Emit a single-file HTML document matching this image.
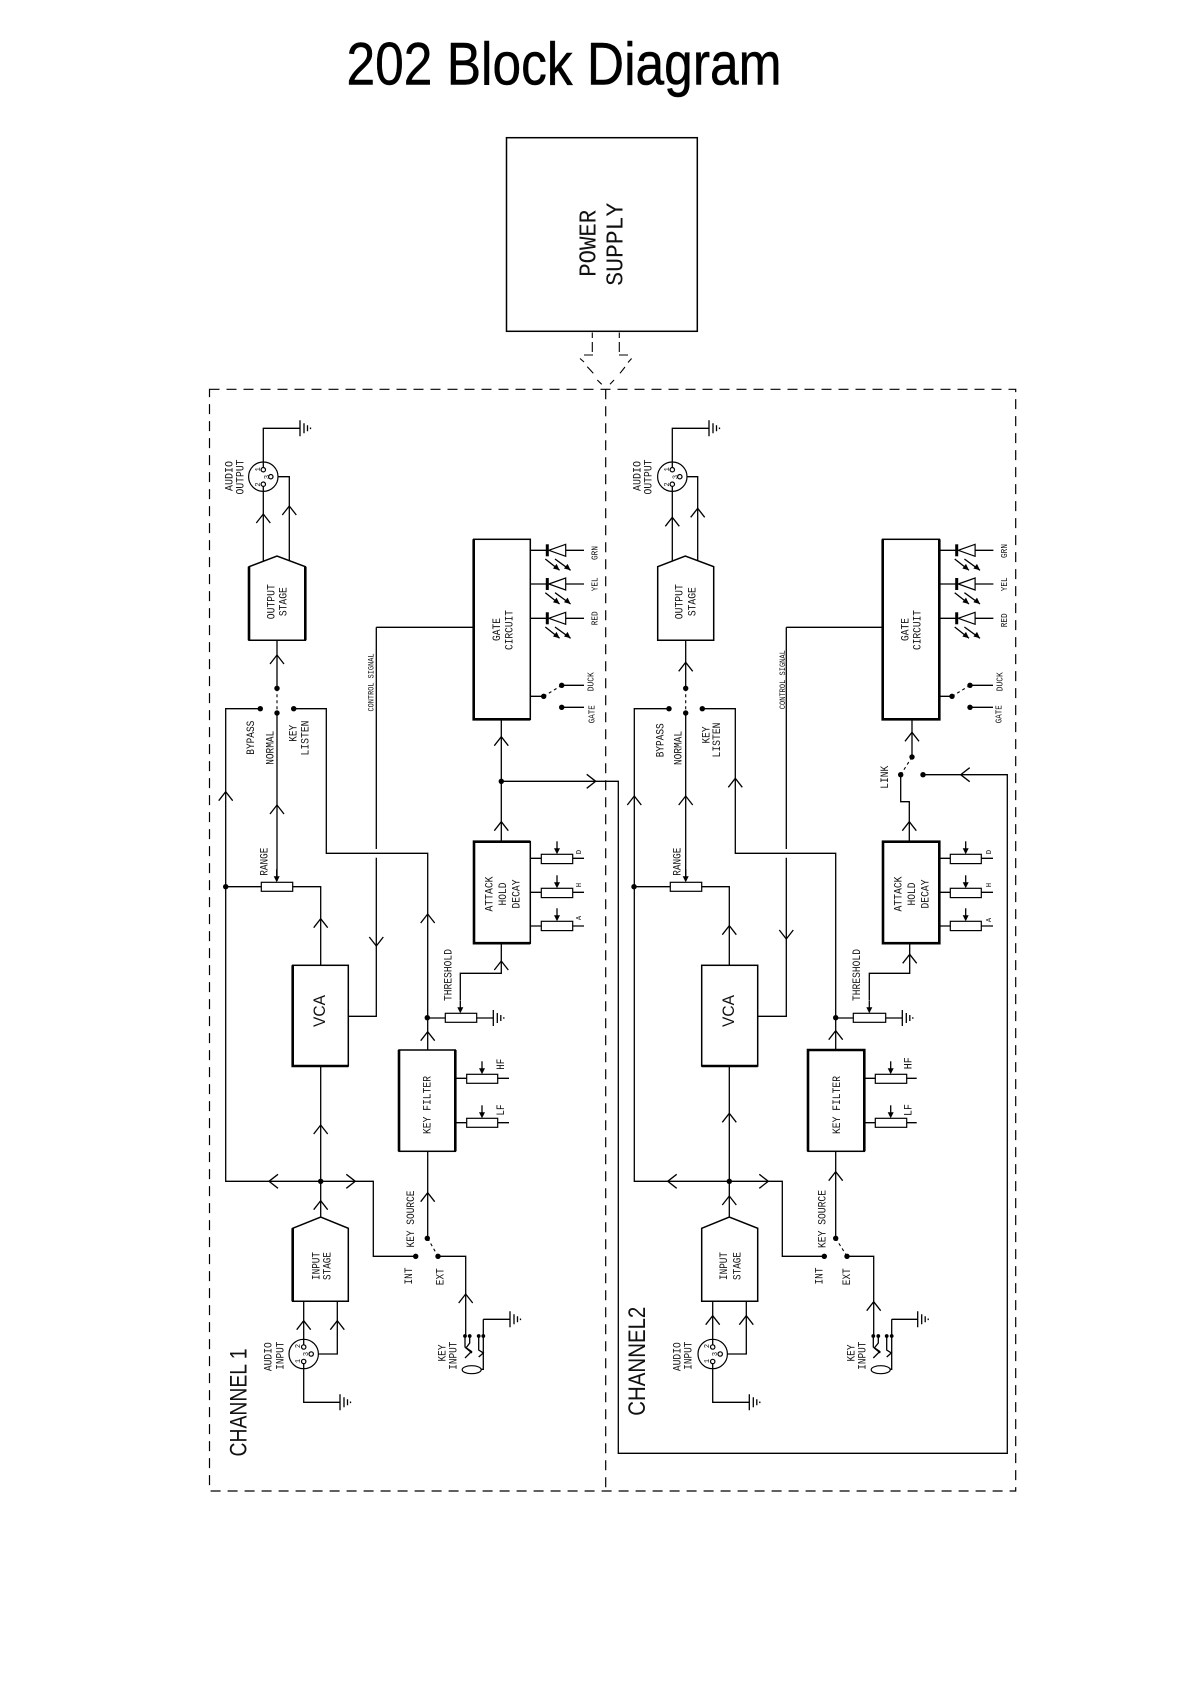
<!DOCTYPE html>
<html><head><meta charset="utf-8"><title>202 Block Diagram</title>
<style>
html,body{margin:0;padding:0;background:#fff}
svg{display:block}
text{font-family:"Liberation Mono",monospace;text-anchor:middle;fill:#111}
.a{font-size:11px}.b{font-size:9px}.c{font-size:7px}.d{font-size:12px}
.v{font-family:"Liberation Sans",sans-serif}
.w{fill:none;stroke:#000;stroke-width:1.3}
.h{fill:none;stroke:#000;stroke-width:2.6}
.m{fill:#fff;stroke:#000;stroke-width:1.5}
.r{fill:#fff;stroke:#000;stroke-width:1.2}
.f{fill:none;stroke:#000;stroke-width:1.2;stroke-dasharray:10 7}
.s{fill:none;stroke:#000;stroke-width:1.1;stroke-dasharray:3 3}
.k{fill:#000}
</style></head><body>
<svg xmlns="http://www.w3.org/2000/svg" width="1191" height="1684" viewBox="0 0 1191 1684">
<defs>
<path id="cu" class="w" d="M-7 9L0 0L7 9"/>
<path id="cd" class="w" d="M-7 -9L0 0L7 -9"/>
<path id="cl" class="w" d="M9 -7L0 0L9 7"/>
<path id="cr" class="w" d="M-9 -7L0 0L-9 7"/>
<path id="g" class="w" d="M0 -8V8M4 -5V5M7.5 -3V3M10.5 -.8V.8"/>
<g id="wp"><path class="w" d="M0 -13V-4"/><path class="k" d="M0 0L-3 -6H3Z"/></g>
<g id="led"><path class="w" d="M0 0H-17M18.4 0H36.7"/><path d="M0 -6V6" stroke="#000" stroke-width="3" fill="none"/><path class="r" d="M1.500 0L18.400 -6V6Z"/>
<path class="w" d="M-2 8.700L12.300 20M7.700 8.700L23.300 20"/><path class="k" d="M12.300 20L5.700 18.200L9.300 13.600ZM23.300 20L16.700 18.200L20.300 13.600Z"/></g>
<g id="xlr"><circle class="r" r="14.7"/><circle class="r" cy="-7" r="2.2"/><circle class="r" cy="7.500" r="2.2"/><circle class="r" cx="7.500" r="2.200"/></g>
</defs>

<text x="346.500" y="84.300" font-size="60" textLength="435" lengthAdjust="spacingAndGlyphs" style="font-family:'Liberation Sans',sans-serif;text-anchor:start;fill:#000;stroke:#000;stroke-width:.5">202 Block Diagram</text>

<rect x="506.500" y="137.700" width="190.800" height="193.600" class="m"/>
<text style="font-size:24px" transform="translate(595.7 243.300) rotate(-90)" textLength="67" lengthAdjust="spacingAndGlyphs">POWER</text>
<text style="font-size:24px" transform="translate(622.7 244.200) rotate(-90)" textLength="83" lengthAdjust="spacingAndGlyphs">SUPPLY</text>
<path class="w" style="stroke-width:1.1" d="M592.300 332.500V338M592.300 342V352M619.300 332.500V338M619.300 342V352M593 355H584M619 355H628M580 358.500L584 362M587.300 366.700L593.300 373.300M597.300 380L601.700 384.300M610 384.300L614 380M620 373.300L625 367M628 362.500L631.600 358.500"/>
<path class="f" d="M209.500 389.300H1015.700V1491H209.500ZM605.700 389.300V1491"/>

<!-- CHANNEL 1 -->
<path class="w" d="M263.300 470V428.300H300M263.300 484V561.700M271 476.700H289.300V561M277 640.300V688.300M277 713V881M260.300 708.700H225.700V1181.300H373.300V1256.300H415.700M293.700 708.700H326.300V853.300H427.700V1238.300M225.700 886.700H261.300M292.700 886.700H320.700V965.300M320.700 1066V1217M376.300 627.300H473.700M376.300 627.300V849M376.300 857.700V1016.300H348.300M427.700 1018H445.300M476.700 1018H493.300M460.300 1000V973.300H501.300V943M501.300 841.700V719M501.300 781.300H618.300V1453.300H1007.300V774.700H923M530.300 696.300H543.700M561.700 685.300H584M561.700 707.300H584M530.300 858.300H541.300M572.700 858.300H584M530.300 892.300H541.300M572.700 892.300H584M530.300 926H541.300M572.700 926H584M455.300 1078.300H466.700M497.700 1078.300H509M455.300 1122.700H466.700M497.700 1122.700H509M438 1256.300H465.700V1336M483.300 1319.300V1369.300H481M483.300 1319.300H510M303.700 1301V1344M337.300 1301V1354H311M303.700 1360V1402.300H340"/>
<path class="s" d="M277 688.300V713M427.700 1238.300L438 1256.300M543.700 696.300L561.700 685.300"/>
<path class="w" d="M465 1336V1347L471.500 1351.500L465 1358M469.700 1336V1343L466 1348L472 1353M478.700 1336V1350L483.300 1353L478.700 1357"/>
<ellipse class="r" cx="471.700" cy="1369.700" rx="9.500" ry="4"/>
<path class="m" d="M249 566.700L277 556L305.300 566.700V640.300H249Z"/><path class="h" d="M249 566.700V640.300M305.300 566.700V640.300"/>
<path class="m" d="M292.700 1228.300L320.700 1217L348.300 1228.300V1301.300H292.700Z"/><path class="h" d="M292.700 1228.300V1301.300"/>
<rect class="m" x="473.700" y="539.300" width="56.600" height="180"/><path class="h" d="M473.700 539.300V719.300H530.300"/>
<rect class="m" x="474" y="841.700" width="56.300" height="101.500"/><path class="h" d="M530.300 841.700H474V943.200H530.300"/>
<rect class="m" x="292.700" y="965.300" width="55.600" height="100.700"/><path class="h" d="M292.700 965.300V1066H348.300"/>
<rect class="m" x="399" y="1050" width="56.300" height="101.300"/><path class="h" d="M399 1050V1151.300M455.300 1050V1151.300"/>
<use href="#xlr" x="263.300" y="476.700"/><use href="#xlr" x="303.700" y="1354"/>
<path class="w" d="M263.300 462V468M263.300 486.500V492M303.700 1339.300V1344.500M303.700 1363V1369"/>
<rect class="r" x="261.300" y="882.300" width="31.400" height="9"/><rect class="r" x="445.300" y="1013.300" width="31.400" height="9"/>
<rect class="r" x="541.300" y="854.300" width="31.400" height="9.300"/><rect class="r" x="541.300" y="888.300" width="31.400" height="9.300"/><rect class="r" x="541.300" y="921.300" width="31.400" height="9.300"/>
<rect class="r" x="466.700" y="1074.300" width="31" height="9"/><rect class="r" x="466.700" y="1118.300" width="31" height="9"/>
<use href="#g" x="300" y="428.300"/><use href="#g" x="493.300" y="1018"/><use href="#g" x="340" y="1402.300"/><use href="#g" x="510" y="1319.300"/>
<use href="#wp" x="276.700" y="882.300"/><use href="#wp" x="460.300" y="1013.300"/><use href="#wp" x="557" y="854.300"/><use href="#wp" x="557" y="888.300"/><use href="#wp" x="557" y="921.300"/><use href="#wp" x="482" y="1074.300"/><use href="#wp" x="482" y="1118.300"/>
<use href="#led" x="547.300" y="550.300"/><use href="#led" x="547.300" y="584"/><use href="#led" x="547.300" y="618.300"/>
<use href="#cu" x="263.300" y="514"/><use href="#cu" x="289.300" y="506"/><use href="#cu" x="277" y="655"/><use href="#cu" x="277" y="805"/><use href="#cu" x="225.700" y="791.700"/><use href="#cu" x="501.300" y="736.700"/><use href="#cu" x="501.300" y="821.700"/><use href="#cu" x="501.300" y="961"/><use href="#cu" x="427.700" y="914"/><use href="#cu" x="427.700" y="1031.700"/><use href="#cu" x="320.700" y="918.700"/><use href="#cu" x="320.700" y="1125"/><use href="#cu" x="320.700" y="1200.700"/><use href="#cu" x="427.700" y="1192.700"/><use href="#cu" x="465.700" y="1294"/><use href="#cu" x="303.700" y="1320.700"/><use href="#cu" x="337.300" y="1320.700"/>
<use href="#cd" x="376.300" y="946"/><use href="#cl" x="269" y="1181.300"/><use href="#cr" x="355.300" y="1181.300"/><use href="#cr" x="595.700" y="781.300"/>
<g class="k">
<circle cx="277" cy="688.300" r="2.700"/><circle cx="277" cy="713" r="2.700"/><circle cx="260.300" cy="708.700" r="2.700"/><circle cx="293.700" cy="708.700" r="2.700"/><circle cx="543.700" cy="696.300" r="2.700"/><circle cx="561.700" cy="685.300" r="2.700"/><circle cx="561.700" cy="707.300" r="2.700"/><circle cx="501.300" cy="781.300" r="2.700"/><circle cx="225.700" cy="886.700" r="2.700"/><circle cx="427.300" cy="1017.700" r="2.700"/><circle cx="320.700" cy="1181.300" r="2.700"/><circle cx="427.300" cy="1238.300" r="2.700"/><circle cx="415.700" cy="1256.300" r="2.700"/><circle cx="438" cy="1256.300" r="2.700"/><circle cx="465" cy="1336" r="1.900"/><circle cx="469.700" cy="1336" r="1.900"/><circle cx="478.700" cy="1336" r="1.900"/><circle cx="483.300" cy="1336" r="1.900"/>
</g>
<g>
<text class="a" transform="translate(232.300 476) rotate(-90)" textLength="30" lengthAdjust="spacingAndGlyphs">AUDIO</text>
<text class="a" transform="translate(243.300 477) rotate(-90)" textLength="35" lengthAdjust="spacingAndGlyphs">OUTPUT</text>
<text class="c" transform="translate(260 469.300) rotate(-90)">1</text><text class="c" transform="translate(269 477) rotate(-90)">3</text><text class="c" transform="translate(260 484.500) rotate(-90)">2</text>
<text class="a" transform="translate(274.300 601.700) rotate(-90)" textLength="35" lengthAdjust="spacingAndGlyphs">OUTPUT</text>
<text class="a" transform="translate(286.700 601.700) rotate(-90)" textLength="29" lengthAdjust="spacingAndGlyphs">STAGE</text>
<text class="a" transform="translate(500 629.500) rotate(-90)" textLength="23" lengthAdjust="spacingAndGlyphs">GATE</text>
<text class="a" transform="translate(512.300 630) rotate(-90)" textLength="40" lengthAdjust="spacingAndGlyphs">CIRCUIT</text>
<text class="b" transform="translate(597.300 553) rotate(-90)" textLength="14" lengthAdjust="spacingAndGlyphs">GRN</text>
<text class="b" transform="translate(597.300 584.300) rotate(-90)" textLength="14" lengthAdjust="spacingAndGlyphs">YEL</text>
<text class="b" transform="translate(597.300 618.300) rotate(-90)" textLength="14" lengthAdjust="spacingAndGlyphs">RED</text>
<text class="b" transform="translate(593.700 681.700) rotate(-90)" textLength="19" lengthAdjust="spacingAndGlyphs">DUCK</text>
<text class="b" transform="translate(594.300 714.300) rotate(-90)" textLength="18" lengthAdjust="spacingAndGlyphs">GATE</text>
<text class="b" style="font-size:8px" transform="translate(373.300 682.500) rotate(-90)" textLength="58" lengthAdjust="spacingAndGlyphs">CONTROL SIGNAL</text>
<text class="a" transform="translate(254 737.700) rotate(-90)" textLength="34" lengthAdjust="spacingAndGlyphs">BYPASS</text>
<text class="a" transform="translate(273.700 747.800) rotate(-90)" textLength="34" lengthAdjust="spacingAndGlyphs">NORMAL</text>
<text class="a" transform="translate(296.700 733.300) rotate(-90)" textLength="17" lengthAdjust="spacingAndGlyphs">KEY</text>
<text class="a" transform="translate(308.300 738) rotate(-90)" textLength="35" lengthAdjust="spacingAndGlyphs">LISTEN</text>
<text class="a" transform="translate(267.700 861.700) rotate(-90)" textLength="28" lengthAdjust="spacingAndGlyphs">RANGE</text>
<text class="a" transform="translate(492.700 894) rotate(-90)" textLength="35" lengthAdjust="spacingAndGlyphs">ATTACK</text>
<text class="a" transform="translate(506 894) rotate(-90)" textLength="23" lengthAdjust="spacingAndGlyphs">HOLD</text>
<text class="a" transform="translate(519.300 894) rotate(-90)" textLength="29" lengthAdjust="spacingAndGlyphs">DECAY</text>
<text class="c" transform="translate(581 852) rotate(-90)">D</text><text class="c" transform="translate(581 885) rotate(-90)">H</text><text class="c" transform="translate(581 918) rotate(-90)">A</text>
<text class="a" transform="translate(451.700 975) rotate(-90)" textLength="52" lengthAdjust="spacingAndGlyphs">THRESHOLD</text>
<text class="v" style="font-size:17px" transform="translate(325 1011) rotate(-90)" textLength="32" lengthAdjust="spacingAndGlyphs">VCA</text>
<text class="a" transform="translate(430.700 1105) rotate(-90)" textLength="58" lengthAdjust="spacingAndGlyphs">KEY FILTER</text>
<text class="a" transform="translate(504 1064.300) rotate(-90)" textLength="11" lengthAdjust="spacingAndGlyphs">HF</text>
<text class="a" transform="translate(504 1110) rotate(-90)" textLength="11" lengthAdjust="spacingAndGlyphs">LF</text>
<text class="a" transform="translate(414 1219) rotate(-90)" textLength="57" lengthAdjust="spacingAndGlyphs">KEY SOURCE</text>
<text class="a" transform="translate(412 1276) rotate(-90)" textLength="17" lengthAdjust="spacingAndGlyphs">INT</text>
<text class="a" transform="translate(443.700 1276.700) rotate(-90)" textLength="17" lengthAdjust="spacingAndGlyphs">EXT</text>
<text class="a" transform="translate(319.300 1266) rotate(-90)" textLength="28" lengthAdjust="spacingAndGlyphs">INPUT</text>
<text class="a" transform="translate(330.300 1266) rotate(-90)" textLength="28" lengthAdjust="spacingAndGlyphs">STAGE</text>
<text class="a" transform="translate(271.700 1356.700) rotate(-90)" textLength="29" lengthAdjust="spacingAndGlyphs">AUDIO</text>
<text class="a" transform="translate(283.300 1355.700) rotate(-90)" textLength="28" lengthAdjust="spacingAndGlyphs">INPUT</text>
<text class="c" transform="translate(300 1346) rotate(-90)">2</text><text class="c" transform="translate(308 1354) rotate(-90)">3</text><text class="c" transform="translate(300 1361) rotate(-90)">1</text>
<text class="a" transform="translate(445.700 1353) rotate(-90)" textLength="17" lengthAdjust="spacingAndGlyphs">KEY</text>
<text class="a" transform="translate(456.700 1355.700) rotate(-90)" textLength="28" lengthAdjust="spacingAndGlyphs">INPUT</text>
<text class="v" style="font-size:24px" transform="translate(246.700 1402.500) rotate(-90)" textLength="108" lengthAdjust="spacingAndGlyphs">CHANNEL 1</text>
</g>

<!-- CHANNEL 2 -->
<path class="w" d="M672.300 470V428.300H709M672.300 484V561.700M680 476.700H697.700V561M685.700 640.300V688.300M685.700 713V881M669 708.700H634.300V1181.300H782.300V1256.300H824.300M702.300 708.700H735.300V853.300H835.700V1238.300M634 886.700H670.300M701.700 886.700H729.300V965.300M729.300 1066V1217M786.300 627.300H882.700M786.300 627.300V849M786.300 857.700V1016.300H757.700M835.700 1018H853.300M885.700 1018H902.300M869.300 1000V973.300H909.700V943M912 719V757M900.700 774.700V801.700H909.300V841.700M939.300 696.300H952M970 685.300H993M970 707.300H993M939.300 858.300H950.300M981.300 858.300H993M939.300 892.300H950.300M981.300 892.300H993M939.300 926H950.300M981.300 926H993M864.300 1078.300H875.300M906.700 1078.300H916.700M864.300 1122.700H875.300M906.700 1122.700H916.700M847 1256.300H873.700V1336M891.700 1319.300V1369.300H889.500M891.700 1319.300H917.700M712.700 1301V1344M746.300 1301V1354H720M712.700 1360V1402.300H749.300"/>
<path class="s" d="M685.700 688.300V713M835.700 1238.300L847 1256.300M952 696.300L970 685.300M912 757L900.700 774.700"/>
<path class="w" d="M873.300 1336V1347L879.800 1351.500L873.300 1358M878.300 1336V1343L874.300 1348L880.300 1353M886.700 1336V1350L891.300 1353L886.700 1357"/>
<ellipse class="r" cx="880.700" cy="1369.700" rx="9.500" ry="4"/>
<path class="m" d="M657.700 566.700L685.300 556L713.700 566.700V640.300H657.700Z"/>
<path class="m" d="M701.700 1228.300L729.300 1217L757.700 1228.300V1301.300H701.700Z"/>
<rect class="m" x="882.700" y="539.300" width="56.600" height="180"/><path class="h" d="M882.700 539.300V719.300H939.300V539.300"/>
<rect class="m" x="883" y="841.700" width="56.300" height="101.500" style="stroke-width:2.600"/>
<rect class="m" x="701.700" y="965.300" width="56" height="100.700"/><path class="h" d="M701.700 1066H757.700"/>
<rect class="m" x="808" y="1050" width="56.300" height="101.300"/><path class="h" d="M808 1151.300V1050H864.300V1151.300"/>
<use href="#xlr" x="672.300" y="476.700"/><use href="#xlr" x="712.700" y="1354"/>
<path class="w" d="M672.300 462V468M672.300 486.500V492M712.700 1339.300V1344.500M712.700 1363V1369"/>
<rect class="r" x="670.300" y="882.300" width="31.400" height="9"/><rect class="r" x="853.300" y="1013.300" width="32.400" height="9"/>
<rect class="r" x="950.300" y="854.300" width="31" height="9.300"/><rect class="r" x="950.300" y="888.300" width="31" height="9.300"/><rect class="r" x="950.300" y="921.300" width="31" height="9.300"/>
<rect class="r" x="875.300" y="1074.300" width="31.400" height="9"/><rect class="r" x="875.300" y="1118.300" width="31.400" height="9"/>
<use href="#g" x="709" y="428.300"/><use href="#g" x="902.300" y="1018"/><use href="#g" x="749.300" y="1402.300"/><use href="#g" x="917.700" y="1319.300"/>
<use href="#wp" x="685.700" y="882.300"/><use href="#wp" x="869.300" y="1013.300"/><use href="#wp" x="965.700" y="854.300"/><use href="#wp" x="965.700" y="888.300"/><use href="#wp" x="965.700" y="921.300"/><use href="#wp" x="890.700" y="1074.300"/><use href="#wp" x="890.700" y="1118.300"/>
<use href="#led" x="956.700" y="550.300"/><use href="#led" x="956.700" y="584"/><use href="#led" x="956.700" y="618.300"/>
<use href="#cu" x="672.300" y="517.300"/><use href="#cu" x="697.700" y="508.300"/><use href="#cu" x="685.700" y="662.300"/><use href="#cu" x="685.700" y="796"/><use href="#cu" x="634.300" y="796"/><use href="#cu" x="735.300" y="778.300"/><use href="#cu" x="912" y="732.300"/><use href="#cu" x="909.300" y="821.700"/><use href="#cu" x="909.700" y="954.300"/><use href="#cu" x="835.700" y="1030.700"/><use href="#cu" x="729.300" y="925.700"/><use href="#cu" x="729.300" y="1113.300"/><use href="#cu" x="729.300" y="1196"/><use href="#cu" x="835.700" y="1171.700"/><use href="#cu" x="873.700" y="1301.700"/><use href="#cu" x="712.700" y="1315.700"/><use href="#cu" x="746.300" y="1315.700"/>
<use href="#cd" x="786.300" y="939"/><use href="#cl" x="667.700" y="1181.300"/><use href="#cr" x="768.300" y="1181.300"/><use href="#cl" x="960.700" y="774.700"/>
<g class="k">
<circle cx="685.700" cy="688.300" r="2.700"/><circle cx="685.700" cy="713" r="2.700"/><circle cx="669" cy="708.700" r="2.700"/><circle cx="702.300" cy="708.700" r="2.700"/><circle cx="952" cy="696.300" r="2.700"/><circle cx="970" cy="685.300" r="2.700"/><circle cx="970" cy="707.300" r="2.700"/><circle cx="912" cy="757" r="2.700"/><circle cx="900.700" cy="774.700" r="2.700"/><circle cx="923" cy="774.700" r="2.700"/><circle cx="634" cy="886.700" r="2.700"/><circle cx="835.700" cy="1017.700" r="2.700"/><circle cx="729.300" cy="1181.300" r="2.700"/><circle cx="835.700" cy="1238.300" r="2.700"/><circle cx="824.300" cy="1256.300" r="2.700"/><circle cx="847" cy="1256.300" r="2.700"/><circle cx="873.300" cy="1336" r="1.900"/><circle cx="878.300" cy="1336" r="1.900"/><circle cx="886.700" cy="1336" r="1.900"/><circle cx="891.700" cy="1336" r="1.900"/>
</g>
<g>
<text class="a" transform="translate(640.700 476) rotate(-90)" textLength="30" lengthAdjust="spacingAndGlyphs">AUDIO</text>
<text class="a" transform="translate(651.700 477) rotate(-90)" textLength="35" lengthAdjust="spacingAndGlyphs">OUTPUT</text>
<text class="c" transform="translate(669 469.300) rotate(-90)">1</text><text class="c" transform="translate(677.500 477) rotate(-90)">3</text><text class="c" transform="translate(669 484.500) rotate(-90)">2</text>
<text class="a" transform="translate(682.700 601.700) rotate(-90)" textLength="35" lengthAdjust="spacingAndGlyphs">OUTPUT</text>
<text class="a" transform="translate(695.700 601.700) rotate(-90)" textLength="29" lengthAdjust="spacingAndGlyphs">STAGE</text>
<text class="a" transform="translate(908.300 629.500) rotate(-90)" textLength="23" lengthAdjust="spacingAndGlyphs">GATE</text>
<text class="a" transform="translate(920.700 630) rotate(-90)" textLength="40" lengthAdjust="spacingAndGlyphs">CIRCUIT</text>
<text class="b" transform="translate(1007 551) rotate(-90)" textLength="14" lengthAdjust="spacingAndGlyphs">GRN</text>
<text class="b" transform="translate(1007 584.300) rotate(-90)" textLength="14" lengthAdjust="spacingAndGlyphs">YEL</text>
<text class="b" transform="translate(1007 620.300) rotate(-90)" textLength="14" lengthAdjust="spacingAndGlyphs">RED</text>
<text class="b" transform="translate(1002.700 681.800) rotate(-90)" textLength="19" lengthAdjust="spacingAndGlyphs">DUCK</text>
<text class="b" transform="translate(1001.700 714.300) rotate(-90)" textLength="18" lengthAdjust="spacingAndGlyphs">GATE</text>
<text class="b" style="font-size:8px" transform="translate(785 679.700) rotate(-90)" textLength="59" lengthAdjust="spacingAndGlyphs">CONTROL SIGNAL</text>
<text class="a" transform="translate(663.700 740.300) rotate(-90)" textLength="34" lengthAdjust="spacingAndGlyphs">BYPASS</text>
<text class="a" transform="translate(681.700 748) rotate(-90)" textLength="34" lengthAdjust="spacingAndGlyphs">NORMAL</text>
<text class="a" transform="translate(709.300 735) rotate(-90)" textLength="17" lengthAdjust="spacingAndGlyphs">KEY</text>
<text class="a" transform="translate(720 740) rotate(-90)" textLength="35" lengthAdjust="spacingAndGlyphs">LISTEN</text>
<text class="a" transform="translate(888 777.300) rotate(-90)" textLength="23" lengthAdjust="spacingAndGlyphs">LINK</text>
<text class="a" transform="translate(680.300 861.700) rotate(-90)" textLength="28" lengthAdjust="spacingAndGlyphs">RANGE</text>
<text class="a" transform="translate(901.700 894) rotate(-90)" textLength="35" lengthAdjust="spacingAndGlyphs">ATTACK</text>
<text class="a" transform="translate(915 894) rotate(-90)" textLength="23" lengthAdjust="spacingAndGlyphs">HOLD</text>
<text class="a" transform="translate(928.300 894) rotate(-90)" textLength="29" lengthAdjust="spacingAndGlyphs">DECAY</text>
<text class="c" transform="translate(991 852) rotate(-90)">D</text><text class="c" transform="translate(991 885) rotate(-90)">H</text><text class="c" transform="translate(991 920) rotate(-90)">A</text>
<text class="a" transform="translate(860 975) rotate(-90)" textLength="52" lengthAdjust="spacingAndGlyphs">THRESHOLD</text>
<text class="v" style="font-size:17px" transform="translate(734 1011) rotate(-90)" textLength="32" lengthAdjust="spacingAndGlyphs">VCA</text>
<text class="a" transform="translate(840 1105) rotate(-90)" textLength="58" lengthAdjust="spacingAndGlyphs">KEY FILTER</text>
<text class="a" transform="translate(911.700 1063.300) rotate(-90)" textLength="12" lengthAdjust="spacingAndGlyphs">HF</text>
<text class="a" transform="translate(911.700 1110) rotate(-90)" textLength="12" lengthAdjust="spacingAndGlyphs">LF</text>
<text class="a" transform="translate(825.700 1219) rotate(-90)" textLength="58" lengthAdjust="spacingAndGlyphs">KEY SOURCE</text>
<text class="a" transform="translate(822.700 1276) rotate(-90)" textLength="17" lengthAdjust="spacingAndGlyphs">INT</text>
<text class="a" transform="translate(850 1276.700) rotate(-90)" textLength="17" lengthAdjust="spacingAndGlyphs">EXT</text>
<text class="a" transform="translate(727 1266) rotate(-90)" textLength="28" lengthAdjust="spacingAndGlyphs">INPUT</text>
<text class="a" transform="translate(740.300 1266) rotate(-90)" textLength="28" lengthAdjust="spacingAndGlyphs">STAGE</text>
<text class="a" transform="translate(680.700 1356.700) rotate(-90)" textLength="29" lengthAdjust="spacingAndGlyphs">AUDIO</text>
<text class="a" transform="translate(691.700 1355.700) rotate(-90)" textLength="28" lengthAdjust="spacingAndGlyphs">INPUT</text>
<text class="c" transform="translate(709 1346) rotate(-90)">2</text><text class="c" transform="translate(717 1354) rotate(-90)">3</text><text class="c" transform="translate(709 1361) rotate(-90)">1</text>
<text class="a" transform="translate(854.300 1353) rotate(-90)" textLength="17" lengthAdjust="spacingAndGlyphs">KEY</text>
<text class="a" transform="translate(865.300 1355.700) rotate(-90)" textLength="28" lengthAdjust="spacingAndGlyphs">INPUT</text>
<text class="v" style="font-size:24px" transform="translate(645 1361.200) rotate(-90)" textLength="109" lengthAdjust="spacingAndGlyphs">CHANNEL2</text>
</g>
</svg>
</body></html>
